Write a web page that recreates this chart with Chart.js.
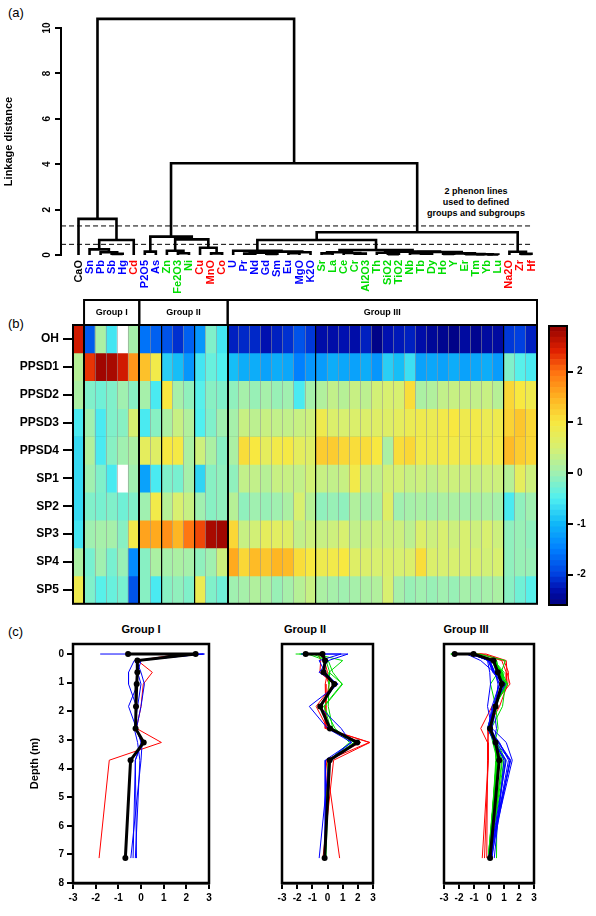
<!DOCTYPE html>
<html>
<head>
<meta charset="utf-8">
<script src="https://cdn.jsdelivr.net/npm/chart.js@4.4.1/dist/chart.umd.min.js"></script>
<style>
body { margin: 0; background: #fff; width: 596px; height: 916px; position: relative; overflow: hidden; font-family: "Liberation Sans", Arial, sans-serif; }
canvas { position: absolute; }
.tag { position: absolute; font-size: 13px; }
.note { position: absolute; font-size: 9px; font-weight: bold; text-align: center; line-height: 11px; }
.ptitle { position: absolute; font-size: 11px; font-weight: bold; text-align: center; width: 120px; }
</style>
</head>
<body>
<div class="tag" style="left:8px;top:5px">(a)</div>
<div class="tag" style="left:8px;top:316px">(b)</div>
<div class="tag" style="left:8px;top:624px">(c)</div>
<div class="note" style="left:416px;top:186px;width:120px">2 phenon lines<br>used to defined<br>groups and subgroups</div>
<div class="ptitle" style="left:81px;top:623px">Group I</div>
<div class="ptitle" style="left:245px;top:623px">Group II</div>
<div class="ptitle" style="left:406px;top:623px">Group III</div>
<script>
// leaves of the dendrogram = heatmap columns
const elements = ['CaO','Sn','Pb','Sb','Hg','Cd','P2O5','As','Zn','Fe2O3','Ni','Cu','MnO','Co',
  'U','Pr','Nd','Gd','Sm','Eu','MgO','K2O','Sr','La','Ce','Cr','Al2O3','Th','SiO2','TiO2','Nb',
  'Tb','Dy','Ho','Y','Er','Tm','Yb','Lu','Na2O','Zr','Hf'];
const elementClass = ['k','b','b','b','b','r','b','b','g','g','g','r','r','r',
  'b','b','b','b','b','b','b','b','g','g','g','g','g','g','g','g','g',
  'g','g','g','g','g','g','g','g','r','r','r'];
const classColor = { k: '#000000', b: '#0000ff', g: '#00dd00', r: '#ff0000' };

// merge tree: [left, right, height]
const tree = [
  [0, [[1, [2, [3, 4, 0.05], 0.12], 0.25], 5, 0.66], 1.59],
  [
    [[6, 7, 0.15], [[8, [9, 10, 0.08], 0.19], [11, [12, 13, 0.07], 0.32], 0.69], 0.81],
    [
      [
        [14, [[[15, 16, 0.06], [17, 18, 0.05], 0.1], [[19, 20, 0.08], 21, 0.12], 0.15], 0.19],
        [[[22, 23, 0.07], [24, [25, 26, 0.06], 0.09], 0.12],
         [[27, [28, 29, 0.04], 0.1], [[30, [31, 32, 0.06], 0.08], [[33, 34, 0.05], [35, [36, [37, 38, 0.02], 0.03], 0.04], 0.07], 0.13], 0.15], 0.22],
        0.66],
      [39, [40, 41, 0.05], 0.14],
      1.0],
    4.04],
  10.4];
const phenonLines = [1.28, 0.47];
const linkTicks = [0, 2, 4, 6, 8, 10];

// heatmap rows / soil layers
const layers = ['OH','PPSD1','PPSD2','PPSD3','PPSD4','SP1','SP2','SP3','SP4','SP5'];
const layerDepth = [0, 0, 0.23, 0.64, 1.05, 1.83, 2.6, 3.09, 3.71, 7.13];

const valOH    = [2.5,-1.8,0.1,-0.6,null,0.05,-1.6,-1.75,-1.85,-2.1,-1.75,-1.3,-0.2,-0.6,
  -2.2,-2.15,-2.15,-2.3,-2.2,-2.1,-1.85,-2.05,-2.35,-2.35,-2.3,-2.35,-2.2,-2.55,
  -2.3,-2.25,-2.2,-2.35,-2.45,-2.5,-2.55,-2.4,-2.5,-2.4,-2.4,-2.05,-2.0,-2.2];
const valPPSD1 = [0.2,2.3,2.8,2.75,2.5,1.7,1.35,0.9,-0.8,-0.95,-1.3,-0.6,-0.35,-0.5,
  -0.95,-1.1,-1.1,-1.2,-1.1,-1.15,-1.5,-1.3,-1.25,-1.1,-1.15,-1.2,-1.1,-1.3,
  -0.8,-0.95,-0.65,-1.2,-1.15,-1.2,-1.1,-1.2,-1.15,-1.1,-1.25,-0.2,-0.45,-0.55];
const valPPSD2 = [0.1,-0.2,-0.3,-0.2,0.0,-0.15,0.05,-0.55,1.0,0.05,-0.1,-0.45,-0.15,-0.2,
  -0.1,0.05,-0.05,0.05,-0.05,0.0,-0.55,0.05,0.15,0.3,0.2,0.35,0.25,0.45,
  0.5,0.5,1.1,0.1,0.15,0.3,0.35,0.35,0.3,0.35,0.2,1.15,1.0,0.85];
const valPPSD3 = [-0.55,0.0,-0.55,-0.2,-0.15,0.5,-0.55,-0.15,0.1,0.35,0.15,-0.5,-0.2,0.0,
  0.05,0.35,0.25,0.35,0.3,0.3,0.35,0.4,0.85,0.55,0.5,0.55,0.55,0.6,
  0.6,0.7,0.8,0.85,0.8,0.9,1.0,0.85,0.9,0.8,0.85,1.2,1.3,1.15];
const valPPSD4 = [-0.7,0.15,-0.55,-0.15,0.0,0.1,0.7,0.6,1.0,0.95,0.1,0.4,0.1,-0.15,
  0.1,1.1,1.0,0.7,0.9,0.95,0.7,0.6,1.25,1.25,1.15,1.1,1.1,1.0,
  0.1,1.1,1.15,0.9,0.85,0.9,0.9,0.85,0.9,0.85,0.9,1.4,1.25,1.15];
const valSP1   = [-0.7,0.0,-0.2,-0.55,null,0.0,-1.2,-0.55,-0.2,-0.25,0.05,-0.75,-0.15,-0.1,
  -0.1,0.3,0.3,0.2,0.35,0.35,0.3,0.45,0.35,0.3,0.35,0.9,0.35,0.3,
  0.45,0.45,0.35,0.4,0.3,0.4,0.4,0.4,0.35,0.4,0.4,0.2,0.7,0.4];
const valSP2   = [-0.7,-0.2,-0.25,-0.2,-0.3,-0.2,0.0,0.9,0.2,0.5,0.35,0.0,-0.15,-0.1,
  0.2,-0.1,0.0,-0.05,0.0,0.1,0.5,0.2,-0.1,-0.05,-0.1,0.15,0.05,0.1,
  0.6,0.0,0.05,0.1,0.05,0.1,0.1,0.05,0.1,0.1,0.05,-0.55,-0.1,0.0];
const valSP3   = [-0.6,0.0,0.05,0.05,-0.15,0.9,1.6,1.55,1.75,1.45,1.95,2.2,2.75,2.8,
  1.15,0.35,0.45,0.7,0.65,0.6,0.3,0.4,0.35,0.4,0.5,0.3,0.35,0.4,
  0.4,0.4,0.25,0.55,0.4,0.5,0.4,0.5,0.4,0.5,0.4,-0.1,-0.05,-0.1];
const valSP4   = [0.1,-0.25,0.0,-0.25,-0.05,-1.4,-0.15,0.1,0.05,0.1,0.05,-0.1,0.0,0.4,
  1.55,1.15,1.4,1.3,1.45,1.4,1.1,1.0,0.85,0.9,1.0,0.6,0.55,0.5,
  0.55,0.5,0.55,1.1,0.55,0.5,0.5,0.5,0.5,0.45,0.5,-0.1,-0.05,-0.05];
const valSP5   = [0.85,-0.2,-0.45,-0.35,-0.25,-1.85,-0.15,-0.55,-0.15,-0.1,-0.2,0.8,-0.2,-0.3,
  0.0,0.05,0.15,0.1,-0.05,0.05,0.2,0.35,0.1,0.05,0.0,0.05,0.1,0.15,
  0.5,0.05,-0.05,0.0,-0.05,0.0,-0.05,0.05,0.0,0.05,0.1,-0.15,-0.3,-0.45];
const layerValues = [valOH, valPPSD1, valPPSD2, valPPSD3, valPPSD4, valSP1, valSP2, valSP3, valSP4, valSP5];

// groups (column index ranges)
const groupNames = ['Group I', 'Group II', 'Group III'];
const groupFirst = [1, 6, 14];
const groupLast = [5, 13, 41];
const subgroupEdges = [8, 11, 22, 39];

// group mean profiles (black lines)
const meanI   = [-0.57, 2.41, -0.16, -0.16, -0.19, -0.22, -0.24, 0.12, -0.46, -0.69];
const meanII  = [-1.44, -0.33, -0.16, -0.26, 0.45, -0.48, 0.16, 1.96, 0.14, -0.19];
const meanIII = [-2.29, -1.03, 0.30, 0.59, 0.86, 0.44, 0.07, 0.44, 0.68, 0.07];

// colour key
const colorStops = [-2.6, -2.3, -2.0, -1.5, -1.0, -0.5, 0, 0.5, 1.0, 1.5, 2.0, 2.4, 2.9];
const colorHex = ['#000080','#0010b0','#0040e0','#0080ff','#10b8f8','#50f0f0','#a0f0b0',
  '#d8f070','#f8e840','#ffb020','#ff7010','#e02000','#900000'];
const colorbarTicks = [-2, -1, 0, 1, 2];
const depthTicks = [0, 1, 2, 3, 4, 5, 6, 7, 8];

Chart.defaults.font.family = '"Liberation Sans", Arial, sans-serif';
Chart.defaults.color = '#000';

function hexToRgb(h) { return [1, 3, 5].map(i => parseInt(h.substr(i, 2), 16)); }
function colorFor(v) {
  if (v === null) return '#ffffff';
  if (v <= colorStops[0]) return colorHex[0];
  for (let i = 1; i < colorStops.length; i++) {
    if (v <= colorStops[i]) {
      const t = (v - colorStops[i - 1]) / (colorStops[i] - colorStops[i - 1]);
      const a = hexToRgb(colorHex[i - 1]), b = hexToRgb(colorHex[i]);
      return 'rgb(' + a.map((c, k) => Math.round(c + (b[k] - c) * t)).join(',') + ')';
    }
  }
  return colorHex[colorHex.length - 1];
}

function makeCanvas(x, y, w, h) {
  const c = document.createElement('canvas');
  c.width = w; c.height = h;
  c.style.left = x + 'px'; c.style.top = y + 'px';
  document.body.appendChild(c);
  return c;
}

const base = {
  responsive: false, animation: false, events: [],
  plugins: { legend: { display: false }, tooltip: { enabled: false } }
};

// ---------- (a) dendrogram ----------
const segs = [];
function walk(node) {
  if (typeof node === 'number') return { x: node, h: 0 };
  const l = walk(node[0]), r = walk(node[1]), h = node[2];
  segs.push([{ x: l.x, y: l.h }, { x: l.x, y: h }, { x: r.x, y: h }, { x: r.x, y: r.h }]);
  return { x: (l.x + r.x) / 2, h: h };
}
walk(tree);

const dendroDatasets = segs.map(d => ({
  data: d, showLine: true, borderColor: '#000', borderWidth: 2.6, pointRadius: 0, clip: false
}));
phenonLines.forEach(h => dendroDatasets.push({
  data: [{ x: -1.58, y: h }, { x: 41.1, y: h }], showLine: true,
  borderColor: '#000', borderWidth: 1, borderDash: [5, 3], pointRadius: 0
}));

const rotatedYLabels = {
  id: 'rotatedYLabels',
  afterDraw(chart) {
    const ctx = chart.ctx, ys = chart.scales.y;
    ctx.save();
    ctx.font = 'bold 10px "Liberation Sans", Arial';
    ctx.fillStyle = '#000';
    ctx.textAlign = 'center';
    ctx.textBaseline = 'middle';
    linkTicks.forEach(v => {
      ctx.save();
      ctx.translate(ys.left + 47, ys.getPixelForValue(v));
      ctx.rotate(-Math.PI / 2);
      ctx.fillText(String(v), 0, 0);
      ctx.restore();
    });
    ctx.restore();
  }
};

new Chart(makeCanvas(0, 0, 596, 300), {
  type: 'scatter',
  data: { datasets: dendroDatasets },
  options: {
    ...base,
    layout: { padding: { top: 28, right: 56, left: 0, bottom: 0 } },
    scales: {
      x: {
        type: 'linear', min: -1.584, max: 41.77,
        afterBuildTicks: s => { s.ticks = elements.map((_, i) => ({ value: i })); },
        ticks: {
          autoSkip: false, minRotation: 90, maxRotation: 90, padding: 5,
          font: { size: 11, weight: 'bold' },
          callback: (v, i) => elements[i],
          color: ctx => classColor[elementClass[ctx.index]]
        },
        grid: { display: false, drawTicks: false },
        border: { display: false },
        afterFit: s => { s.height = 45; }
      },
      y: {
        min: 0, max: 10,
        afterBuildTicks: s => { s.ticks = linkTicks.map(v => ({ value: v })); },
        ticks: { display: false },
        grid: { drawOnChartArea: false, tickLength: 6, color: '#000', lineWidth: 2 },
        border: { display: true, color: '#000', width: 2 },
        title: { display: true, text: 'Linkage distance', font: { size: 11, weight: 'bold' }, padding: { top: 2, bottom: 0 } },
        afterFit: s => { s.width = 61; }
      }
    }
  },
  plugins: [rotatedYLabels]
});

// ---------- (b) heatmap ----------
const heatFrame = {
  id: 'heatFrame',
  afterDraw(chart) {
    const ctx = chart.ctx, a = chart.chartArea, xs = chart.scales.x;
    const half = (xs.getPixelForValue(1) - xs.getPixelForValue(0)) / 2;
    ctx.save();
    ctx.strokeStyle = '#000';
    ctx.lineWidth = 2;
    ctx.strokeRect(a.left, a.top, a.right - a.left, a.bottom - a.top);
    ctx.font = 'bold 9px "Liberation Sans", Arial';
    ctx.fillStyle = '#000';
    ctx.textAlign = 'center';
    ctx.textBaseline = 'middle';
    groupNames.forEach((g, k) => {
      const l = xs.getPixelForValue(groupFirst[k]) - half;
      const r = xs.getPixelForValue(groupLast[k]) + half;
      ctx.strokeRect(l, a.top - 25, r - l, 25);
      ctx.fillText(g, (l + r) / 2, a.top - 12.5);
    });
    ctx.restore();
  }
};

new Chart(makeCanvas(0, 295, 545, 320), {
  type: 'bar',
  data: {
    labels: elements,
    datasets: layers.map((name, r) => ({
      data: layerValues[r].map(() => [r, r + 1]),
      backgroundColor: layerValues[r].map(v => colorFor(v)),
      borderWidth: 0, grouped: false, barPercentage: 1, categoryPercentage: 1
    }))
  },
  options: {
    ...base,
    layout: { padding: { top: 30, right: 8, left: 0, bottom: 9 } },
    scales: {
      x: {
        offset: true,
        ticks: { display: false },
        grid: {
          offset: true, drawTicks: false, z: 1,
          color: ctx => (groupFirst.includes(ctx.index) || subgroupEdges.includes(ctx.index)) ? '#000' : 'rgba(150,150,150,0.55)',
          lineWidth: ctx => groupFirst.includes(ctx.index) ? 2 : (subgroupEdges.includes(ctx.index) ? 1.2 : 1)
        },
        border: { display: false },
        z: 1,
        afterFit: s => { s.height = 0; }
      },
      y: {
        type: 'linear', min: 0, max: 10, reverse: true, position: 'left',
        afterBuildTicks: s => { s.ticks = layers.map((_, i) => ({ value: i + 0.5 })); },
        ticks: { padding: 4, font: { size: 12, weight: 'bold' }, callback: (v, i) => layers[i] },
        grid: { drawOnChartArea: false, tickLength: 10, color: '#000', lineWidth: 2 },
        border: { display: false },
        afterFit: s => { s.width = 73; }
      },
      y2: {
        type: 'linear', min: 0, max: 10, reverse: true, position: 'left',
        ticks: { display: false, stepSize: 1 },
        grid: { drawTicks: false, color: '#000', lineWidth: 1 },
        border: { display: false },
        z: 1,
        afterFit: s => { s.width = 0; }
      }
    }
  },
  plugins: [heatFrame]
});

// colour key
const keyDatasets = [];
for (let lo = colorStops[0]; lo < colorStops[colorStops.length - 1] - 1e-9; lo += 0.11) {
  const hi = Math.min(lo + 0.11, colorStops[colorStops.length - 1]);
  keyDatasets.push({
    data: [[lo, hi]], backgroundColor: colorFor((lo + hi) / 2),
    borderWidth: 0, grouped: false, barPercentage: 1, categoryPercentage: 1
  });
}
const boxFrame = {
  id: 'boxFrame',
  afterDraw(chart) {
    const a = chart.chartArea, ctx = chart.ctx;
    ctx.save();
    ctx.strokeStyle = '#000';
    ctx.lineWidth = chart.options.frameWidth || 2;
    ctx.strokeRect(a.left, a.top, a.right - a.left, a.bottom - a.top);
    ctx.restore();
  }
};

new Chart(makeCanvas(540, 300, 56, 320), {
  type: 'bar',
  data: { labels: [''], datasets: keyDatasets },
  options: {
    ...base,
    layout: { padding: { top: 26, right: 0, left: 9, bottom: 15 } },
    scales: {
      x: { display: false },
      y: {
        position: 'right', min: colorStops[0], max: colorStops[colorStops.length - 1],
        afterBuildTicks: s => { s.ticks = colorbarTicks.map(v => ({ value: v })); },
        ticks: { padding: 4, font: { size: 10, weight: 'bold' } },
        grid: { drawOnChartArea: false, tickLength: 6, color: '#000', lineWidth: 2 },
        border: { display: false },
        afterFit: s => { s.width = 29; }
      }
    }
  },
  plugins: [boxFrame]
});

// ---------- (c) depth profiles ----------
function members(k) {
  const out = [];
  for (let i = groupFirst[k]; i <= groupLast[k]; i++) out.push(i);
  return out;
}

function profile(x, w, k, mean, showY) {
  const datasets = members(k).map(i => ({
    data: layers.map((_, r) => ({ x: layerValues[r][i], y: layerDepth[r] })),
    showLine: true, spanGaps: true, borderColor: classColor[elementClass[i]],
    borderWidth: 1, pointRadius: 0
  }));
  datasets.push({
    data: mean.map((v, r) => ({ x: v, y: layerDepth[r] })),
    showLine: true, borderColor: '#000', borderWidth: 3,
    pointRadius: 3, pointBorderWidth: 0, pointBackgroundColor: '#000', order: -1
  });
  new Chart(makeCanvas(x, 610, w, 306), {
    type: 'scatter',
    data: { datasets },
    options: {
      ...base,
      frameWidth: 2.5,
      layout: { padding: { top: 34, right: showY ? 6 : 10, left: showY ? 28 : 10, bottom: 0 } },
      scales: {
        x: {
          min: -3, max: 3,
          ticks: { stepSize: 1, padding: 3, font: { size: 10, weight: 'bold' } },
          grid: { drawOnChartArea: false, tickLength: 6, color: '#000', lineWidth: 2 },
          border: { display: true, color: '#000', width: 2.5 },
          afterFit: s => { s.height = 33; }
        },
        y: {
          display: showY, min: -0.35, max: 8, reverse: true,
          afterBuildTicks: s => { s.ticks = depthTicks.map(v => ({ value: v })); },
          ticks: { padding: 3, font: { size: 10, weight: 'bold' } },
          grid: { drawOnChartArea: false, tickLength: 6, color: '#000', lineWidth: 2 },
          border: { display: false },
          title: { display: true, text: 'Depth (m)', font: { size: 11, weight: 'bold' }, padding: { top: 0, bottom: 2 } },
          afterFit: s => { s.width = 45; }
        }
      }
    },
    plugins: [boxFrame]
  });
}

profile(0, 215, 0, meanI, true);
profile(227, 156, 1, meanII, false);
profile(389, 155, 2, meanIII, false);
</script>
</body>
</html>
